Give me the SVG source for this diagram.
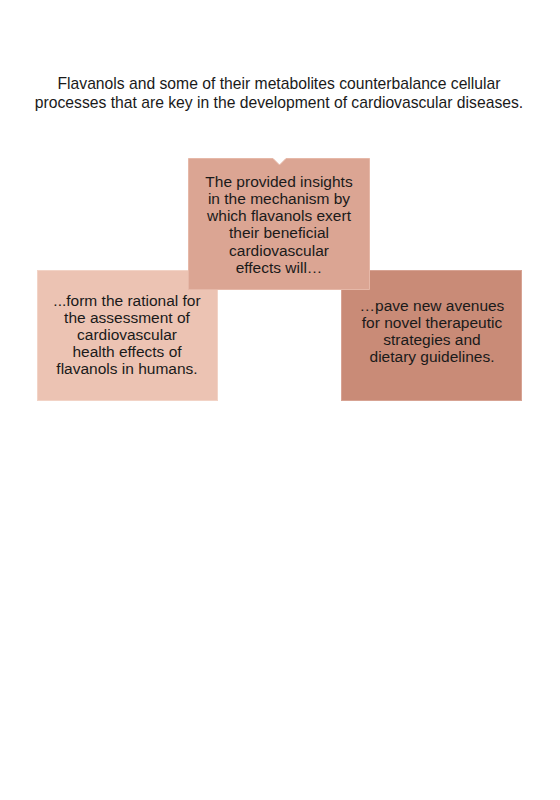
<svg xmlns="http://www.w3.org/2000/svg" width="560" height="800" viewBox="0 0 560 800">
<style>
text{font-family:"Liberation Sans",Arial,sans-serif;font-size:15.5px;fill:#1a1a1a;text-anchor:middle}
.t{font-size:15.7px}
</style>
<rect width="560" height="800" fill="#fff"/>
<g id="title">
<text class="t" x="279" y="89">Flavanols and some of their metabolites counterbalance cellular</text>
<text class="t" x="279" y="108">processes that are key in the development of cardiovascular diseases.</text>
</g>
<g id="connectors"></g>
<g id="left">
<rect x="37.5" y="270.5" width="180" height="130" fill="#ECC3B3" stroke="#F2D3C6" stroke-width="1"/>
<text x="127" y="306">...form the rational for</text>
<text x="127" y="323">the assessment of</text>
<text x="127" y="340">cardiovascular</text>
<text x="127" y="357">health effects of</text>
<text x="127" y="374">flavanols in humans.</text>
</g>
<g id="right">
<rect x="341.5" y="270.5" width="180" height="130" fill="#C98B77" stroke="#D7A393" stroke-width="1"/>
<text x="432" y="311">…pave new avenues</text>
<text x="432" y="328">for novel therapeutic</text>
<text x="432" y="345">strategies and</text>
<text x="432" y="362">dietary guidelines.</text>
</g>
<g id="top">
<path d="M188.5 158.5 H273 L279.5 165 L286 158.5 H369.5 V289.5 H188.5 Z" fill="#DBA593" stroke="#E6B8A8" stroke-width="1"/>
<text x="279" y="187">The provided insights</text>
<text x="279" y="204">in the mechanism by</text>
<text x="279" y="221">which flavanols exert</text>
<text x="279" y="238">their beneficial</text>
<text x="279" y="256">cardiovascular</text>
<text x="279" y="273">effects will…</text>
</g>
</svg>
